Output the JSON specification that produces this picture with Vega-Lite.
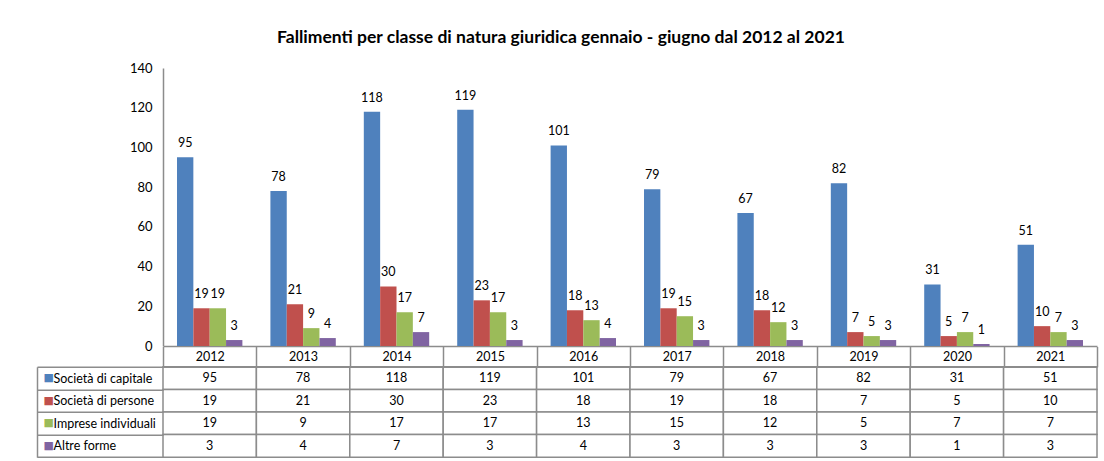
{
  "$schema": "https://vega.github.io/schema/vega-lite/v6.json",
  "padding": {"left": 36, "top": 28, "right": 4, "bottom": 2},
  "background": "white",
  "title": {
    "text": "Fallimenti  per classe di natura giuridica gennaio  - giugno dal 2012 al 2021",
    "anchor": "middle",
    "font": "Lato",
    "fontSize": 17.5,
    "fontWeight": "bold",
    "color": "#000000",
    "offset": 16,
    "dx": -6
  },
  "data": {
    "values": [
      {"year": "2012", "serie": "Società di capitale", "value": 95},
      {"year": "2012", "serie": "Società di persone", "value": 19},
      {"year": "2012", "serie": "Imprese individuali", "value": 19},
      {"year": "2012", "serie": "Altre forme", "value": 3},
      {"year": "2013", "serie": "Società di capitale", "value": 78},
      {"year": "2013", "serie": "Società di persone", "value": 21},
      {"year": "2013", "serie": "Imprese individuali", "value": 9},
      {"year": "2013", "serie": "Altre forme", "value": 4},
      {"year": "2014", "serie": "Società di capitale", "value": 118},
      {"year": "2014", "serie": "Società di persone", "value": 30},
      {"year": "2014", "serie": "Imprese individuali", "value": 17},
      {"year": "2014", "serie": "Altre forme", "value": 7},
      {"year": "2015", "serie": "Società di capitale", "value": 119},
      {"year": "2015", "serie": "Società di persone", "value": 23},
      {"year": "2015", "serie": "Imprese individuali", "value": 17},
      {"year": "2015", "serie": "Altre forme", "value": 3},
      {"year": "2016", "serie": "Società di capitale", "value": 101},
      {"year": "2016", "serie": "Società di persone", "value": 18},
      {"year": "2016", "serie": "Imprese individuali", "value": 13},
      {"year": "2016", "serie": "Altre forme", "value": 4},
      {"year": "2017", "serie": "Società di capitale", "value": 79},
      {"year": "2017", "serie": "Società di persone", "value": 19},
      {"year": "2017", "serie": "Imprese individuali", "value": 15},
      {"year": "2017", "serie": "Altre forme", "value": 3},
      {"year": "2018", "serie": "Società di capitale", "value": 67},
      {"year": "2018", "serie": "Società di persone", "value": 18},
      {"year": "2018", "serie": "Imprese individuali", "value": 12},
      {"year": "2018", "serie": "Altre forme", "value": 3},
      {"year": "2019", "serie": "Società di capitale", "value": 82},
      {"year": "2019", "serie": "Società di persone", "value": 7},
      {"year": "2019", "serie": "Imprese individuali", "value": 5},
      {"year": "2019", "serie": "Altre forme", "value": 3},
      {"year": "2020", "serie": "Società di capitale", "value": 31},
      {"year": "2020", "serie": "Società di persone", "value": 5},
      {"year": "2020", "serie": "Imprese individuali", "value": 7},
      {"year": "2020", "serie": "Altre forme", "value": 1},
      {"year": "2021", "serie": "Società di capitale", "value": 51},
      {"year": "2021", "serie": "Società di persone", "value": 10},
      {"year": "2021", "serie": "Imprese individuali", "value": 7},
      {"year": "2021", "serie": "Altre forme", "value": 3}
    ]
  },
  "spacing": 20.8,
  "bounds": "flush",
  "vconcat": [
    {
      "width": 934,
      "height": 278,
      "layer": [
        {
          "mark": {"type": "bar"},
          "encoding": {
            "x": {
              "field": "year", "type": "ordinal",
              "scale": {"paddingInner": 0.3, "paddingOuter": 0.15},
              "axis": {"labels": false, "ticks": false, "title": null, "domainColor": "#8c8c8c", "domainWidth": 1.5}
            },
            "xOffset": {
              "field": "serie", "type": "nominal",
              "sort": ["Società di capitale", "Società di persone", "Imprese individuali", "Altre forme"],
              "scale": {"paddingInner": 0, "paddingOuter": 0}
            },
            "y": {
              "field": "value", "type": "quantitative",
              "scale": {"domain": [0, 140], "nice": false},
              "axis": {
                "values": [0, 20, 40, 60, 80, 100, 120, 140],
                "labelOverlap": false,
                "grid": false, "ticks": false, "title": null,
                "domainColor": "#8c8c8c", "domainWidth": 1.5,
                "labelPadding": 11, "labelFont": "Lato", "labelFontSize": 13, "labelColor": "#000000"
              }
            },
            "color": {
              "field": "serie", "type": "nominal",
              "scale": {
                "domain": ["Società di capitale", "Società di persone", "Imprese individuali", "Altre forme"],
                "range": ["#4F81BD", "#C0504D", "#9BBB59", "#8064A2"]
              },
              "legend": null
            }
          }
        },
        {
          "mark": {"type": "text", "baseline": "bottom", "dy": -7, "font": "Lato", "fontSize": 12.5, "color": "#000000"},
          "encoding": {
            "x": {
              "field": "year", "type": "ordinal",
              "axis": {"labels": false, "ticks": false, "title": null, "domainColor": "#8c8c8c", "domainWidth": 1.5}
            },
            "xOffset": {
              "field": "serie", "type": "nominal",
              "sort": ["Società di capitale", "Società di persone", "Imprese individuali", "Altre forme"]
            },
            "y": {
              "field": "value", "type": "quantitative",
              "axis": {
                "values": [0, 20, 40, 60, 80, 100, 120, 140],
                "labelOverlap": false,
                "grid": false, "ticks": false, "title": null,
                "domainColor": "#8c8c8c", "domainWidth": 1.5,
                "labelPadding": 11, "labelFont": "Lato", "labelFontSize": 13, "labelColor": "#000000"
              }
            },
            "text": {"field": "value", "type": "quantitative"}
          }
        }
      ]
    },
    {
      "width": 934,
      "height": 90.4,
      "layer": [
        {
          "mark": {"type": "rect", "fill": "white", "stroke": "#8c8c8c", "strokeWidth": 1.5},
          "encoding": {
            "x": {
              "field": "year", "type": "ordinal",
              "scale": {"paddingInner": 0, "paddingOuter": 0},
              "axis": {
                "orient": "top", "title": null, "tickBand": "extent", "tickSize": 20.3,
                "tickColor": "#8c8c8c", "tickWidth": 1.5, "domainColor": "#8c8c8c", "domainWidth": 1.5,
                "labelPadding": -10, "labelBaseline": "middle", "labelAngle": 0,
                "labelFont": "Lato", "labelFontSize": 12.5, "labelColor": "#000000"
              }
            },
            "y": {
              "field": "serie", "type": "nominal",
              "sort": ["Società di capitale", "Società di persone", "Imprese individuali", "Altre forme"],
              "scale": {"paddingInner": 0, "paddingOuter": 0},
              "axis": {
                "orient": "left", "offset": 126, "title": null, "grid": false,
                "tickBand": "extent", "tickSize": -126, "tickColor": "#8c8c8c", "tickWidth": 1.5,
                "domainColor": "#8c8c8c", "domainWidth": 1.5,
                "labelAlign": "left", "labelPadding": 110, "labelBaseline": "middle",
                "labelFont": "Lato", "labelFontSize": 12.5, "labelColor": "#000000"
              }
            }
          }
        },
        {
          "mark": {"type": "text", "font": "Lato", "fontSize": 12.5, "color": "#000000"},
          "encoding": {
            "x": {"field": "year", "type": "ordinal"},
            "y": {
              "field": "serie", "type": "nominal",
              "sort": ["Società di capitale", "Società di persone", "Imprese individuali", "Altre forme"],
              "axis": {
                "orient": "left", "offset": 126, "title": null, "grid": false,
                "domain": false, "ticks": false,
                "labelExpr": "'■'",
                "labelColor": {"expr": "datum.value === 'Società di capitale' ? '#4F81BD' : datum.value === 'Società di persone' ? '#C0504D' : datum.value === 'Imprese individuali' ? '#9BBB59' : '#8064A2'"},
                "labelAlign": "left", "labelPadding": -6, "labelBaseline": "middle",
                "labelFont": "DejaVu Sans", "labelFontSize": 11
              }
            },
            "text": {"field": "value", "type": "quantitative"}
          }
        }
      ],
      "resolve": {"axis": {"y": "independent"}}
    }
  ],
  "config": {
    "view": {"stroke": null},
    "font": "Lato"
  }
}
